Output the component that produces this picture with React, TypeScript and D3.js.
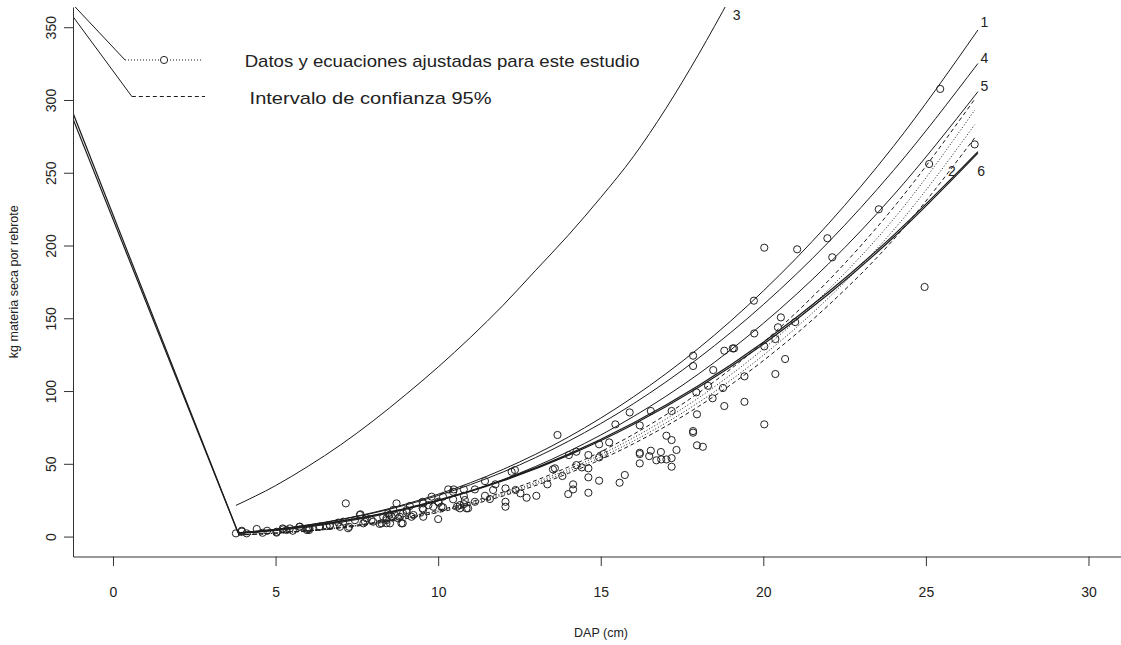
import { useEffect, useRef } from "react";
import * as d3 from "d3";

const width = 1121;
const height = 645;
const plot = { left: 73, top: 7, right: 1121, bottom: 556.5 };
const font = "Liberation Sans, Arial, Helvetica, sans-serif";

// DAP (cm) positions at which the published curves were read
const dapGrid = [3.85, 5, 6, 7, 8, 9, 10, 12, 14, 16, 18, 20, 22, 24, 26.6];
const curve1 = [2.6, 5.0, 8.0, 11.8, 16.5, 22.3, 29.1, 46.2, 68.3, 95.9, 129.2, 168.8, 214.9, 268.1, 348.1];
const curve4 = [2.6, 5.0, 7.9, 11.6, 16.1, 21.7, 28.2, 44.4, 65.4, 91.2, 122.5, 159.4, 202.2, 251.5, 325.1];
const curve5 = [2.1, 4.1, 6.6, 9.8, 13.8, 18.7, 24.5, 39.2, 58.4, 82.4, 111.6, 146.5, 187.3, 234.5, 305.7];
const curve2 = [2.5, 4.7, 7.3, 10.6, 14.6, 19.4, 25.0, 38.9, 56.5, 78.0, 103.6, 133.6, 168.0, 207.0, 264.5];
const curve6 = [2.45, 4.6, 7.2, 10.4, 14.4, 19.1, 24.7, 38.4, 55.8, 77.0, 102.4, 132.2, 166.5, 205.5, 263.5];
// leading points of curves 2 and 6 (left edge of the plot)
const lead2: [number, number] = [-1.23, 291];
const lead6: [number, number] = [-1.23, 287];

// curve 3
const dap3 = [3.78, 5, 6, 7, 8, 9, 10, 11, 12, 13, 14, 15, 16, 17, 18, 19];
const curve3 = [21.4, 35.0, 48.3, 63.0, 79.5, 97.5, 116.5, 137.0, 159.0, 183.0, 207.0, 233.0, 261.0, 294.0, 331.0, 371.0];

// this study: fitted equations (dotted) and 95% CI (dashed)
const dapStudy = [3.85, 5, 6, 7, 8, 9, 10, 12, 14, 16, 18, 20, 22, 24, 26.5];
const ciUpper = [1.2, 2.5, 4.2, 6.5, 9.5, 13.4, 18.1, 30.6, 47.8, 70.2, 98.6, 133.5, 175.8, 226.0, 300.5];
const fitUpper = [1.1, 2.4, 4.0, 6.3, 9.2, 12.9, 17.5, 29.6, 46.2, 67.8, 95.2, 128.9, 169.6, 218.0, 293.0];
const fitLower = [1.1, 2.3, 3.9, 6.1, 8.9, 12.5, 17.0, 28.7, 44.7, 65.6, 92.0, 124.6, 163.9, 210.5, 283.0];
const ciLower = [1.1, 2.3, 3.8, 5.9, 8.7, 12.2, 16.5, 27.9, 43.4, 63.7, 89.3, 120.9, 158.9, 204.0, 274.0];

// observed sprouts: [DAP cm, kg dry matter]
const observed: [number, number][] = [
  [3.78, 2.2], [3.96, 4.0], [3.96, 3.4], [4.11, 2.2], [4.42, 5.2], [4.6, 2.6], [4.74, 4.0], [5.03, 3.3],
  [5.03, 2.7], [5.22, 5.6], [5.24, 5.0], [5.34, 4.5], [5.44, 5.6], [5.53, 4.0], [5.73, 6.7], [5.75, 6.8],
  [5.96, 4.5], [6.0, 5.2], [6.03, 4.5], [6.04, 5.6], [6.34, 6.7], [6.36, 6.8], [6.57, 7.2], [6.67, 7.9],
  [6.67, 7.3], [6.93, 9.6], [6.98, 6.7], [7.08, 10.2], [7.16, 22.8], [7.23, 5.7], [7.26, 6.7], [7.44, 11.3],
  [7.59, 14.8], [7.61, 15.3], [7.7, 9.1], [7.75, 10.2], [7.8, 12.5], [7.95, 11.3], [8.0, 10.2], [8.2, 8.7],
  [8.26, 9.1], [8.31, 13.6], [8.41, 11.3], [8.41, 9.2], [8.41, 12.6], [8.46, 16.0], [8.5, 14.9], [8.52, 9.1],
  [8.57, 13.6], [8.62, 18.3], [8.67, 14.8], [8.72, 22.8], [8.77, 12.5], [8.82, 13.6], [8.87, 9.1], [8.91, 9.1],
  [8.92, 15.9], [9.03, 17.0], [9.03, 18.2], [9.13, 21.0], [9.18, 13.6], [9.24, 14.8], [9.52, 23.9], [9.52, 19.4],
  [9.54, 13.6], [9.54, 18.7], [9.54, 22.8], [9.7, 21.6], [9.8, 27.4], [9.85, 20.5], [10.0, 12.0], [10.0, 23.9],
  [10.02, 23.2], [10.1, 20.5], [10.15, 27.4], [10.15, 20.1], [10.31, 32.4], [10.46, 30.8], [10.46, 25.6], [10.48, 32.4],
  [10.58, 20.5], [10.67, 19.4], [10.67, 21.6], [10.79, 28.0], [10.79, 32.4], [10.79, 22.3], [10.82, 25.1], [10.87, 19.4],
  [10.92, 19.4], [11.13, 32.4], [11.13, 23.9], [11.44, 38.1], [11.44, 28.0], [11.59, 25.8], [11.69, 32.0], [11.76, 35.9],
  [12.07, 33.1], [12.07, 23.9], [12.07, 20.5], [12.26, 44.5], [12.36, 45.7], [12.38, 32.0], [12.53, 29.7], [12.72, 26.7],
  [13.02, 28.0], [13.36, 35.9], [13.53, 46.2], [13.59, 46.9], [13.67, 69.8], [13.82, 41.6], [14.0, 29.2], [14.02, 56.0],
  [14.15, 35.9], [14.15, 32.4], [14.25, 58.3], [14.25, 49.1], [14.42, 47.5], [14.62, 56.0], [14.62, 46.9], [14.62, 40.7],
  [14.62, 30.1], [14.95, 63.4], [14.95, 54.4], [14.95, 38.4], [15.09, 56.7], [15.26, 64.7], [15.45, 77.1], [15.58, 37.0],
  [15.74, 42.3], [15.89, 85.3], [16.2, 76.4], [16.2, 57.6], [16.2, 56.7], [16.2, 50.3], [16.49, 55.3], [16.54, 86.3],
  [16.54, 59.0], [16.71, 52.4], [16.85, 58.1], [16.86, 53.0], [17.02, 69.3], [17.02, 53.0], [17.18, 86.3], [17.18, 66.3],
  [17.18, 53.9], [17.18, 48.0], [17.33, 59.5], [17.84, 124.3], [17.84, 117.2], [17.84, 72.5], [17.84, 71.4], [17.94, 99.1],
  [17.96, 84.0], [17.96, 62.7], [18.14, 61.7], [18.3, 103.6], [18.44, 95.0], [18.46, 114.4], [18.76, 102.1], [18.8, 127.7],
  [18.8, 89.7], [19.06, 129.3], [19.1, 129.3], [19.42, 110.1], [19.42, 92.6], [19.71, 162.1], [19.72, 139.6], [20.03, 198.5],
  [20.03, 130.7], [20.03, 77.1], [20.37, 135.7], [20.37, 111.7], [20.45, 143.8], [20.54, 150.6], [20.67, 122.0], [20.98, 147.4],
  [21.04, 197.4], [21.97, 205.0], [22.12, 191.9], [23.55, 224.9], [24.96, 171.5], [25.1, 256.0], [25.44, 307.6], [26.5, 269.5],
];

const yTicks = [0, 50, 100, 150, 200, 250, 300, 350];
const xTicks = [0, 5, 10, 15, 20, 25, 30];

const legendRows = [
  { label: "Datos y ecuaciones ajustadas para este estudio", from: [-1.23, 365.5], start: 0.37, end: 2.77, level: 327.5, dash: "1,2", marker: 1.57, textAt: 4.05, span: 395 },
  { label: "Intervalo de confianza 95%", from: [-1.23, 357.3], start: 0.58, end: 2.83, level: 302.4, dash: "4,3", marker: null, textAt: 4.2, span: 242 },
];

const curveLabels = [
  { text: "1", dap: 26.8, kg: 353.8 },
  { text: "4", dap: 26.8, kg: 329.0 },
  { text: "5", dap: 26.8, kg: 309.5 },
  { text: "2", dap: 25.8, kg: 251.5 },
  { text: "6", dap: 26.7, kg: 251.5 },
  { text: "3", dap: 19.18, kg: 358.5 },
];

const zip = (xs: number[], ys: number[]): [number, number][] => xs.map((d, i) => [d, ys[i]]);

export default function App() {
  const svgRef = useRef<SVGSVGElement>(null);

  useEffect(() => {
    const svg = d3.select(svgRef.current);
    svg.selectAll("*").remove();

    const x = d3.scaleLinear().domain([-1.23, 31.0]).range([plot.left, plot.right]);
    const y = d3.scaleLinear().domain([-13.7, 363.9]).range([plot.bottom, plot.top]);

    svg.append("rect").attr("width", width).attr("height", height).attr("fill", "#fff");

    svg
      .append("defs")
      .append("clipPath")
      .attr("id", "plotclip")
      .append("rect")
      .attr("x", plot.left)
      .attr("y", plot.top)
      .attr("width", plot.right - plot.left)
      .attr("height", plot.bottom - plot.top);

    const g = svg.append("g").attr("clip-path", "url(#plotclip)");
    const line = d3
      .line<[number, number]>()
      .x((d) => x(d[0]))
      .y((d) => y(d[1]));
    const smooth = d3
      .line<[number, number]>()
      .x((d) => x(d[0]))
      .y((d) => y(d[1]))
      .curve(d3.curveMonotoneX);

    const series = [
      { pts: zip(dapGrid, curve1), dash: null, w: 1 },
      { pts: zip(dapGrid, curve4), dash: null, w: 1 },
      { pts: zip(dapGrid, curve5), dash: null, w: 1 },
      { pts: zip(dap3, curve3), dash: null, w: 1 },
      { pts: zip(dapStudy, ciUpper), dash: "4,3", w: 1 },
      { pts: zip(dapStudy, fitUpper), dash: "1,2", w: 1 },
      { pts: zip(dapStudy, fitLower), dash: "1,2", w: 1 },
      { pts: zip(dapStudy, ciLower), dash: "4,3", w: 1 },
      { pts: zip(dapGrid, curve2), dash: null, w: 1.2 },
      { pts: zip(dapGrid, curve6), dash: null, w: 1.2 },
    ];

    g.selectAll("path.curve")
      .data(series)
      .enter()
      .append("path")
      .attr("class", "curve")
      .attr("d", (d) => smooth(d.pts))
      .attr("fill", "none")
      .attr("stroke", "#1a1a1a")
      .attr("stroke-width", (d) => d.w)
      .attr("stroke-dasharray", (d) => d.dash);

    // straight lead-in segments of curves 2 and 6
    g.selectAll("path.lead")
      .data([
        [lead2, [dapGrid[0], curve2[0]]],
        [lead6, [dapGrid[0], curve6[0]]],
      ] as [number, number][][])
      .enter()
      .append("path")
      .attr("class", "lead")
      .attr("d", (d) => line(d))
      .attr("fill", "none")
      .attr("stroke", "#1a1a1a")
      .attr("stroke-width", 1.2);

    g.selectAll("circle.obs")
      .data(observed)
      .enter()
      .append("circle")
      .attr("class", "obs")
      .attr("cx", (d) => x(d[0]))
      .attr("cy", (d) => y(d[1]))
      .attr("r", 3.6)
      .attr("fill", "none")
      .attr("stroke", "#222")
      .attr("stroke-width", 1);

    // legend
    legendRows.forEach((r) => {
      g.append("path")
        .attr("d", line([r.from as [number, number], [r.start, r.level]]))
        .attr("fill", "none")
        .attr("stroke", "#1a1a1a");
      g.append("path")
        .attr("d", line([[r.start, r.level], [r.end, r.level]]))
        .attr("fill", "none")
        .attr("stroke", "#1a1a1a")
        .attr("stroke-dasharray", r.dash);
      if (r.marker !== null) {
        g.append("circle")
          .attr("cx", x(r.marker))
          .attr("cy", y(r.level))
          .attr("r", 3.6)
          .attr("fill", "#fff")
          .attr("stroke", "#222");
      }
      svg
        .append("text")
        .attr("x", x(r.textAt))
        .attr("y", y(r.level))
        .attr("dy", "0.42em")
        .attr("font-family", font)
        .attr("font-size", 17)
        .attr("textLength", r.span)
        .attr("lengthAdjust", "spacingAndGlyphs")
        .attr("fill", "#222")
        .text(r.label);
    });

    svg
      .selectAll("text.clab")
      .data(curveLabels)
      .enter()
      .append("text")
      .attr("class", "clab")
      .attr("x", (d) => x(d.dap))
      .attr("y", (d) => y(d.kg))
      .attr("dy", "0.36em")
      .attr("text-anchor", "middle")
      .attr("font-family", font)
      .attr("font-size", 14)
      .attr("fill", "#222")
      .text((d) => d.text);

    // axes
    const ax = svg
      .append("g")
      .attr("transform", `translate(0,${plot.bottom})`)
      .call(d3.axisBottom(x).tickValues(xTicks).tickSize(9.5).tickSizeOuter(0).tickFormat(d3.format("d")));
    ax.selectAll("text").attr("y", 40).attr("dy", 0);

    const ay = svg
      .append("g")
      .attr("transform", `translate(${plot.left},0)`)
      .call(d3.axisLeft(y).tickValues(yTicks).tickSize(9).tickSizeOuter(0).tickFormat(d3.format("d")));
    ay.selectAll("text")
      .attr("transform", "rotate(-90)")
      .attr("x", 0)
      .attr("y", -17)
      .attr("dy", 0)
      .attr("text-anchor", "middle");

    [ax, ay].forEach((a) => {
      a.attr("font-family", font).attr("font-size", 14);
      a.selectAll("path, line").attr("stroke", "#333");
      a.selectAll("text").attr("fill", "#222");
    });

    svg
      .append("text")
      .attr("x", (plot.left + plot.right) / 2 + 4)
      .attr("y", 637)
      .attr("text-anchor", "middle")
      .attr("font-family", font)
      .attr("font-size", 12.5)
      .attr("fill", "#222")
      .text("DAP (cm)");

    svg
      .append("text")
      .attr("transform", `translate(18,${(plot.top + plot.bottom) / 2}) rotate(-90)`)
      .attr("text-anchor", "middle")
      .attr("font-family", font)
      .attr("font-size", 12.5)
      .attr("fill", "#222")
      .text("kg materia seca por rebrote");
  }, []);

  return (
    <svg
      ref={svgRef}
      width={width}
      height={height}
      style={{ position: "absolute", left: 0, top: 0, display: "block" }}
    />
  );
}
